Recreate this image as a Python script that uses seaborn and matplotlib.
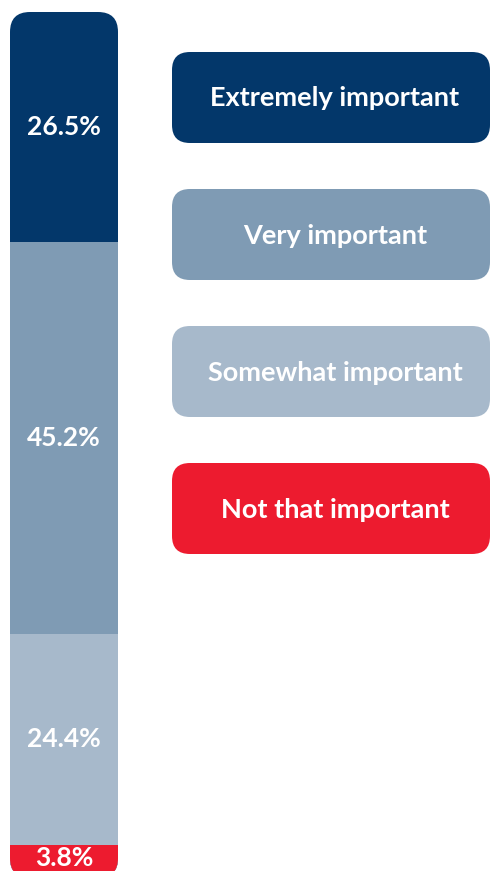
import numpy as np
import matplotlib
matplotlib.use("Agg")
import matplotlib.pyplot as plt
import seaborn as sns
from matplotlib.patches import FancyBboxPatch

# data, top of the bar first
labels = ["Extremely important", "Very important", "Somewhat important", "Not that important"]
shares = [26.5, 45.2, 24.4, 3.8]
colors = ["#03376a", "#7f9bb4", "#a7b9cb", "#ed1b2f"]

sns.set_style("white")
plt.rcParams['font.family'] = ['Lato', 'DejaVu Sans']

W, H = 490, 871
fig = plt.figure(figsize=(W / 100, H / 100), dpi=100)

# background axes in pixel units, used for layout only
ax_bg = fig.add_axes([0, 0, 1, 1])
ax_bg.set_xlim(0, W)
ax_bg.set_ylim(H, 0)
ax_bg.axis("off")

# bar axes: 10..118 px wide, 12..878 px tall (bottom runs past the image)
bar_left, bar_w, bar_top, bar_bot = 10, 108, 12, 878
ax_bar = fig.add_axes([bar_left / W, (H - bar_bot) / H, bar_w / W, (bar_bot - bar_top) / H])
ax_bar.patch.set_alpha(0)
ax_bar.axis("off")

# stacked bar: draw cumulative totals from the tallest down
bottoms_up = shares[::-1]
cols_up = colors[::-1]
cum = np.cumsum(bottoms_up)
total = cum[-1]
for i in range(len(cum) - 1, -1, -1):
    sns.barplot(x=["all"], y=[cum[i]], color=cols_up[i], saturation=1,
                width=1, linewidth=0, ax=ax_bar)
ax_bar.set_xlim(-0.5, 0.5)
ax_bar.set_ylim(0, total)

# rounded outline of the whole bar
clip = FancyBboxPatch((bar_left, bar_top), bar_w, bar_bot - bar_top,
                      boxstyle="round,pad=0,rounding_size=20",
                      transform=ax_bg.transData, facecolor="none", edgecolor="none")
for p in ax_bar.patches:
    p.set_clip_path(clip)

# percentage labels (the smallest one is nudged up so it stays in the image)
lows = np.concatenate([[0], cum[:-1]])
for lo, v in zip(lows, bottoms_up):
    y = lo + v / 2
    if v < 5:
        y = lo + v * 0.62
    ax_bar.text(0, y, f"{v}%", ha="center", va="center",
                color="white", fontsize=19, fontweight="bold", clip_on=False)

# legend boxes on the right
box_x, box_w, box_h = 172, 318, 91
for i, (lab, c) in enumerate(zip(labels, colors)):
    top = 52 + i * 137
    ax_bg.add_patch(FancyBboxPatch((box_x, top), box_w, box_h,
                                   boxstyle="round,pad=0,rounding_size=18",
                                   facecolor=c, edgecolor="none"))
    ax_bg.text(box_x + box_w / 2 + 4, top + box_h / 2 + 1, lab, ha="center", va="center",
               color="white", fontsize=19.5, fontweight="bold")

fig.savefig("out.png", dpi=100)
